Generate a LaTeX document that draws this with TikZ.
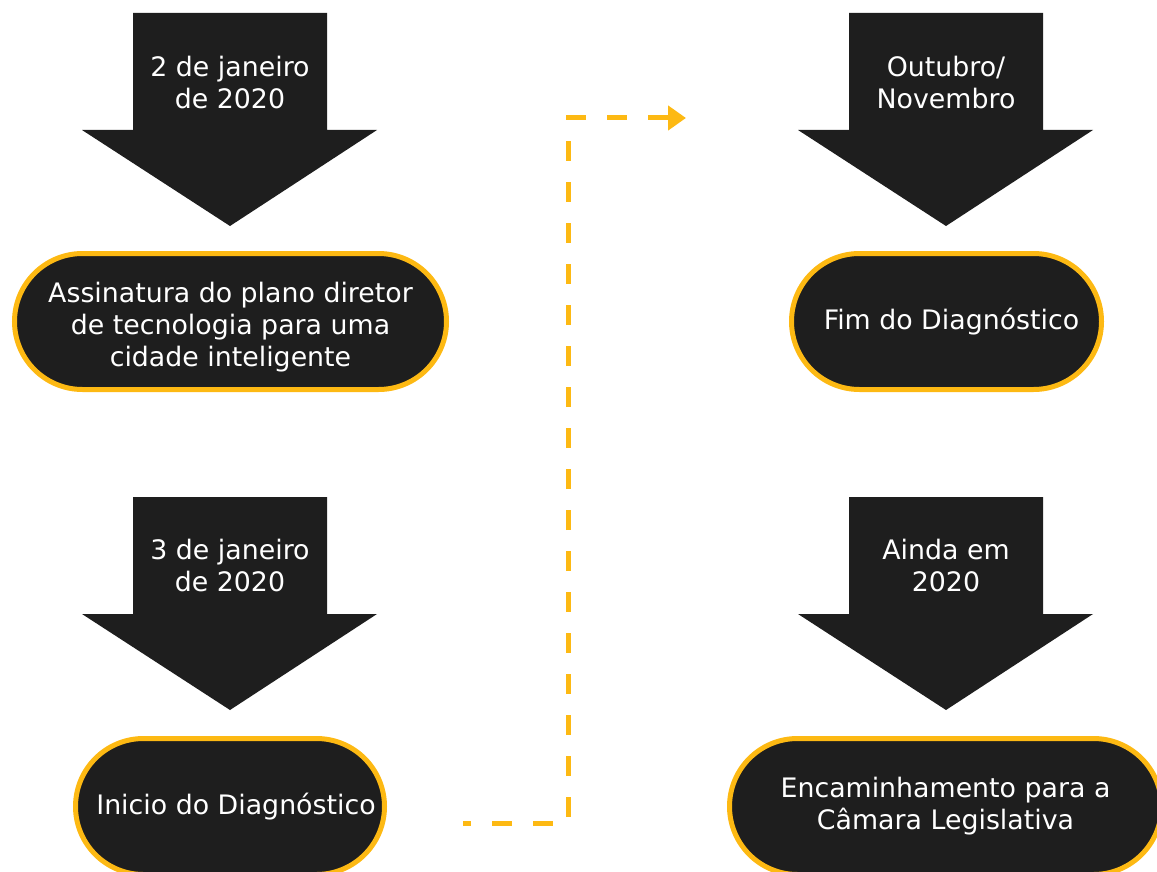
\documentclass[tikz,border=0pt]{standalone}
\usepackage{fontspec}
\setmainfont{DejaVu Sans}
\usetikzlibrary{arrows.meta}
\definecolor{darkfill}{HTML}{1E1E1E}
\definecolor{gold}{HTML}{FDB913}
\begin{document}
\begin{tikzpicture}[x=1pt,y=-1pt,
  pill/.style={rectangle, rounded corners=68pt, fill=darkfill, draw=gold, line width=5pt, text=white, align=center, minimum height=136pt, inner sep=0pt, font=\fontsize{26.8}{32}\selectfont},
  whitetext/.style={text=white, align=center, inner sep=0pt, font=\fontsize{26.8}{32}\selectfont}]
\useasboundingbox (0,0) rectangle (1157,872);
% block arrows
\fill[darkfill] (133,13) -- (327,13) -- (327,130) -- (377,130) -- (230,226) -- (82,130) -- (133,130) -- cycle;
\fill[darkfill] (133,497) -- (327,497) -- (327,614) -- (377,614) -- (230,710) -- (82,614) -- (133,614) -- cycle;
\fill[darkfill] (849,13) -- (1043,13) -- (1043,130) -- (1093,130) -- (946,226) -- (798,130) -- (849,130) -- cycle;
\fill[darkfill] (849,497) -- (1043,497) -- (1043,614) -- (1093,614) -- (946,710) -- (798,614) -- (849,614) -- cycle;
\node[whitetext] (date1) at (230,83) {2 de janeiro\\de 2020};
\node[whitetext] (date2) at (230,566) {3 de janeiro\\de 2020};
\node[whitetext] (date3) at (946,83) {Outubro/\\Novembro};
\node[whitetext] (date4) at (946,566) {Ainda em\\2020};
% events
\node[pill, minimum width=432pt] (ev1) at (230.5,321.5) {};
\node[whitetext] (ev1text) at (230.5,327) {Assinatura do plano diretor\\de tecnologia para uma\\cidade inteligente};
\node[pill, minimum width=309pt] (ev2) at (230,806.5) {\hspace*{12pt}Inicio do Diagnóstico};
\node[pill, minimum width=310pt] (ev3) at (946.5,321.5) {\hspace*{10pt}Fim do Diagnóstico};
\node[pill, minimum width=432pt] (ev4) at (945.5,806.5) {Encaminhamento para a\\Câmara Legislativa};
% dashed link
\coordinate (linkstart) at (463,823);
\coordinate (linkend) at (686,118);
\draw[gold, line width=5pt, dash pattern=on 20pt off 21pt, dash phase=12pt, -{Triangle[length=18pt,width=24pt]}]
  (linkstart) -| (568,118) -- (linkend);
\end{tikzpicture}
\end{document}
